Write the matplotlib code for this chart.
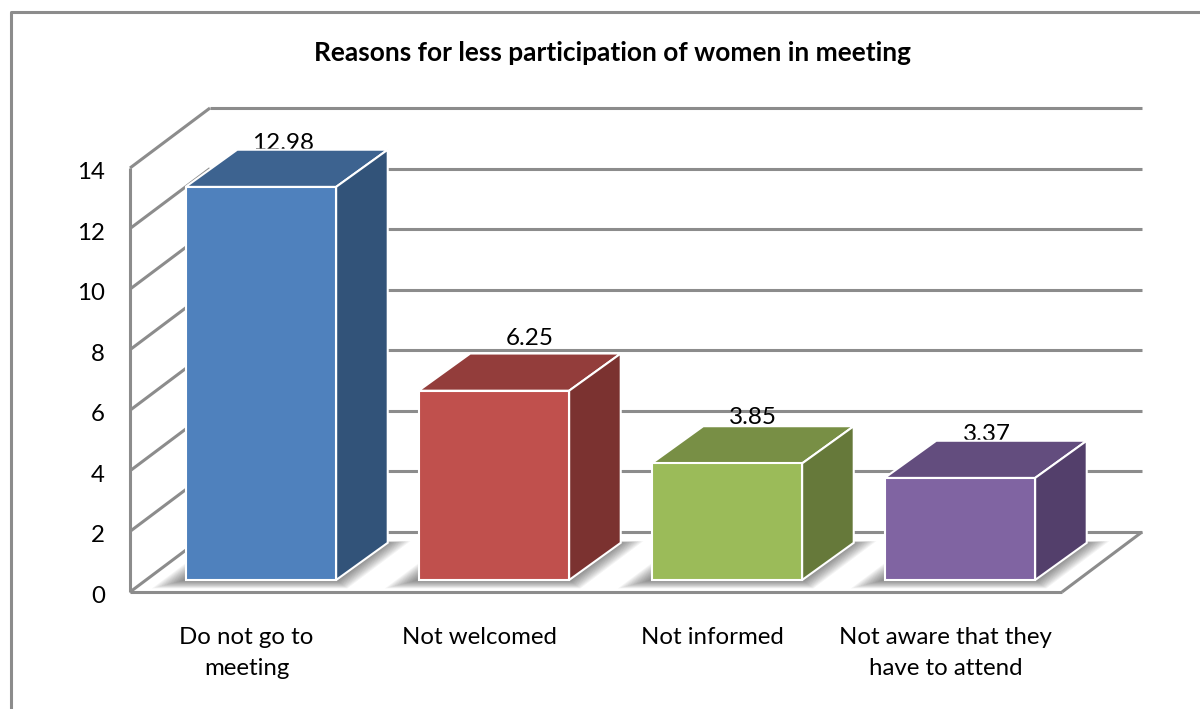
import matplotlib
matplotlib.use("Agg")
import matplotlib.pyplot as plt
from matplotlib.lines import Line2D
from matplotlib.patches import Polygon
from matplotlib.transforms import ScaledTranslation

plt.rcParams['font.family'] = ['Lato', 'DejaVu Sans']

title = 'Reasons for less participation of women in meeting'
categories = ['Do not go to\nmeeting', 'Not welcomed', 'Not informed', 'Not aware that they\nhave to attend']
values = [12.98, 6.25, 3.85, 3.37]
y_ticks = [0, 2, 4, 6, 8, 10, 12, 14]

front_colors = ['#4f81bd', '#c0504d', '#9bbb59', '#8064a2']
top_colors = ['#3d6390', '#933d3b', '#788f45', '#634d7e']
side_colors = ['#325379', '#7b3230', '#66793a', '#533f6b']

# nudges for the value labels, in category / value units
label_dx = [0.05, 0.11, 0.067, 0.072]
label_dy = [0.2, 0.5, 0.29, 0.2]

GRID = '#8c8c8c'
W, H = 1200, 709

fig = plt.figure(figsize=(W / 100, H / 100), dpi=100, facecolor='white')

# front plane of the box; everything else is sheared back from it
ax = fig.add_axes([130 / W, 1 - 592 / H, 932 / W, 424 / H])
ax.set_xlim(0, 4)
ax.set_ylim(0, 14)
ax.patch.set_visible(False)
for s in ax.spines.values():
    s.set_visible(False)

# screen shear for full depth, in data units
SHEAR_X = 80 / 233
SHEAR_Y = 60 / 30.29


def proj(x, v, d):
    return x + d * SHEAR_X, v + d * SHEAR_Y


def face(points, color, z, edge='white', lw=1.5):
    ax.add_patch(Polygon(points, closed=True, facecolor=color, edgecolor=edge,
                         linewidth=lw, joinstyle='miter', clip_on=False, zorder=z))


def line(p0, p1, lw=2.2):
    ax.add_line(Line2D([p0[0], p1[0]], [p0[1], p1[1]], color=GRID, linewidth=lw,
                       solid_capstyle='butt', clip_on=False, zorder=1))


# back wall gridlines and the slanted ones on the left wall
for t in y_ticks:
    line(proj(0, t, 0), proj(0, t, 1))
    line(proj(0, t, 1), proj(4, t, 1))
line((0, 0), (0, 14))
line((0, 0), (4, 0))
line((4, 0), proj(4, 0, 1))

bar_width = 0.646
bar_shift = -0.007
d0, d1 = 0.2, 0.82

for i, val in enumerate(values):
    left = i + 0.5 + bar_shift - bar_width / 2
    right = i + 0.5 + bar_shift + bar_width / 2
    # side faces lean a touch further right than the shear alone
    back = 2.0 / 233

    # soft shadow on the floor
    for k in range(1, 15):
        grow_x = k * 1.6 / 233
        grow_d = k * 0.01
        pts = [proj(left - grow_x, 0, d0 - grow_d), proj(right + grow_x, 0, d0 - grow_d),
               proj(right + grow_x, 0, d1 + grow_d * 0.2), proj(left - grow_x, 0, d1 + grow_d * 0.2)]
        ax.add_patch(Polygon(pts, closed=True, facecolor='#303030', edgecolor='none',
                             alpha=0.05, clip_on=False, zorder=2))

    # value label sits behind the bar top
    lx, ly = proj(i + 0.5 + label_dx[i], val + label_dy[i], d1)
    ax.text(lx - (d1 - d0) / 2 * SHEAR_X - d0 * SHEAR_X, ly, f'{val:.2f}', ha='center', va='center',
            fontsize=17.5, color='black', zorder=3)

    bx0, by0 = proj(left, val, d1)
    bx1, by1 = proj(right, val, d1)
    bx2, by2 = proj(right, 0, d1)
    face([proj(left, val, d0), proj(right, val, d0), (bx1 + back, by1), (bx0 + back, by0)],
         top_colors[i], 4)
    face([proj(right, 0, d0), (bx2 + back, by2), (bx1 + back, by1), proj(right, val, d0)],
         side_colors[i], 4)
    face([proj(left, 0, d0), proj(right, 0, d0), proj(right, val, d0), proj(left, val, d0)],
         front_colors[i], 5)

ax.set_yticks(y_ticks)
ax.set_xticks([0.5, 1.5, 2.5, 3.5])
ax.set_xticklabels(categories, linespacing=1.62)
ax.tick_params(axis='y', length=0, pad=18, labelsize=17.3)
ax.tick_params(axis='x', length=0, pad=25, labelsize=17.3)

# value-axis numbers sit slightly below their gridline height
for lab in ax.get_yticklabels():
    lab.set_transform(lab.get_transform() + ScaledTranslation(0, -2.5 / 100, fig.dpi_scale_trans))

fig.text(612 / W, 1 - 53 / H, title, ha='center', va='center', fontsize=18.9, fontweight='bold')

# chart frame, running off the right and bottom of the image
fig.add_artist(Line2D([11 / W, 11 / W, 1], [0, 1 - 12 / H, 1 - 12 / H], color=GRID, linewidth=2.2))

fig.savefig('out.png', dpi=100)
